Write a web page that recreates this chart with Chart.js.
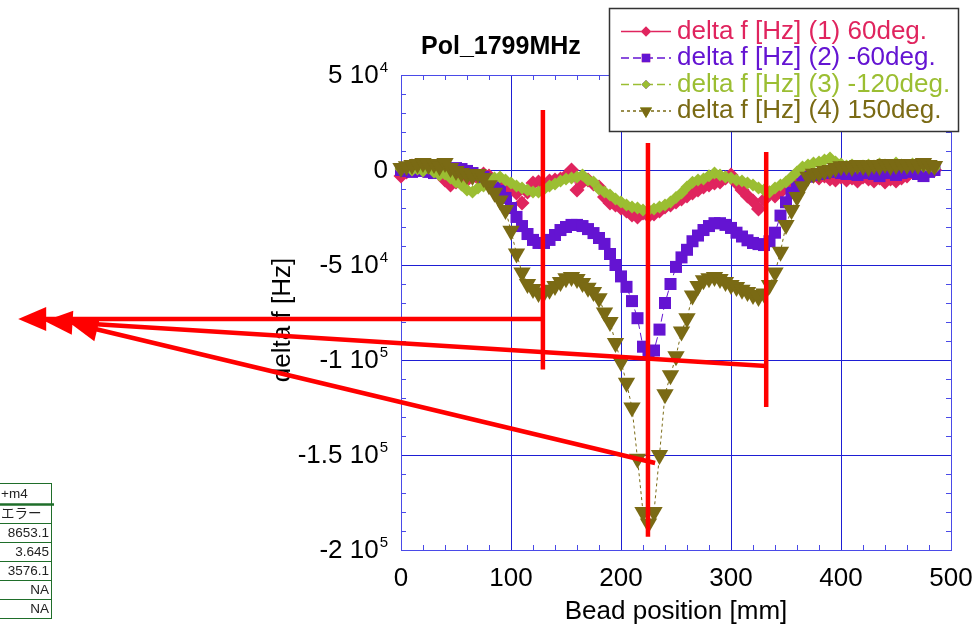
<!DOCTYPE html>
<html>
<head>
<meta charset="utf-8">
<script src="https://cdn.jsdelivr.net/npm/chart.js@4"></script>
<style>
html, body { margin: 0; padding: 0; background: #fff; }
#c { display: block; }
</style>
</head>
<body>
<canvas id="c" width="977" height="634"></canvas>
<script>
// bead position [mm]
const positions = [0,5,10,15,20,25,30,35,40,45,50,55,60,65,70,75,80,85,90,95,
  100,105,110,115,120,125,130,135,140,145,150,155,160,165,170,175,180,185,190,195,
  200,205,210,215,220,225,230,235,240,245,250,255,260,265,270,275,280,285,290,295,
  300,305,310,315,320,325,330,335,340,345,350,355,360,365,370,375,380,385,390,395,
  400,405,410,415,420,425,430,435,440,445,450,455,460,465,470,475,480,485];

// delta f [Hz] (1) 60deg.
const deltaF1 = [-3200,-1000,2100,1000,0,1600,-500,-2100,-5300,-7900,
  -6300,-3700,-5300,-3200,-4200,-2100,-3200,-5300,-6800,-8900,
  -9500,-12100,-17400,-11600,-6800,-6300,-7900,-5800,-5300,-4700,
  -3200,0,-10500,-6300,-5300,-7400,-8900,-14200,-17400,-18400,
  -20000,-21600,-23700,-24700,-22600,-24200,-23200,-21600,-19500,-18400,
  -16800,-15300,-13700,-12100,-10500,-8900,-7900,-6800,-6300,-4200,
  -2600,-6800,-10500,-13700,-16300,-20500,-15800,-12100,-13700,-11600,
  -8900,-7400,-5300,-2600,-1600,-3200,-4200,-3200,-4700,-5300,
  -3700,-5300,-4200,-5800,-3700,-4700,-5800,-4200,-6300,-4700,
  -5800,-4200,-3200,-1000,0,1000,2100,0];

// delta f [Hz] (2) -60deg.
const deltaF2 = [0,-500,-1000,0,-500,-1000,-1600,-500,-1000,0,
  1000,500,-500,-1600,-2600,-3700,-5300,-7400,-11000,-14700,
  -20000,-24700,-29500,-33700,-36800,-38400,-38400,-36800,-34200,-31600,
  -30000,-28900,-28900,-29500,-31100,-33200,-35800,-38900,-44200,-50000,
  -56000,-61500,-69000,-78000,-93000,-97000,-95000,-84000,-70000,-60000,
  -51000,-46000,-42000,-37500,-34500,-31600,-29500,-28000,-28000,-28900,
  -30500,-33000,-35000,-37000,-38400,-39000,-39500,-37500,-33000,-24000,
  -17000,-12000,-9000,-5000,-3500,-2600,-2100,-1600,-1000,-1000,
  -1600,-2100,-1000,-2600,-1600,-1000,-2100,-3200,-1600,-1000,
  -2600,-1600,-1000,-500,-2100,-3200,-1000,0];

// delta f [Hz] (3) -120deg.
const deltaF3 = [500,1000,0,500,-500,1000,-1000,-2600,-2100,-4200,
  -6300,-7900,-10500,-11600,-9500,-8400,-6300,-4200,-3700,-5300,
  -6800,-8400,-9500,-10500,-11600,-11600,-10000,-8400,-7400,-5800,
  -4700,-4200,-3700,-2600,-5300,-6300,-10000,-11600,-13200,-15300,
  -16800,-18400,-19500,-20000,-21100,-21100,-20500,-19500,-18400,-16800,
  -14500,-12100,-9000,-6500,-5300,-4700,-3000,-1600,-2600,-3700,
  -4200,-5300,-5800,-6800,-7900,-9500,-10500,-11600,-9500,-7900,
  -6300,-3700,-1000,1600,2600,3700,4200,5300,6300,4200,
  3200,2100,2600,1600,2100,2600,2100,3200,2600,2100,
  3700,2600,2100,3200,2600,2100,1600,1000];

// delta f [Hz] (4) 150deg.
const deltaF4 = [1000,2000,2600,3200,3700,2600,3200,2000,3700,1000,
  -500,-1600,-2600,-3200,-2100,-4200,-8000,-12000,-16000,-21000,
  -32000,-44000,-54000,-60000,-62600,-64700,-64500,-63000,-61000,-59000,
  -57000,-56300,-57400,-59500,-62000,-64200,-67500,-75000,-80000,-91000,
  -101000,-112000,-125000,-152000,-180000,-186000,-180000,-150000,-118000,-108000,
  -98000,-85000,-78000,-66000,-61000,-58000,-57000,-56300,-57400,-59000,
  -60500,-61600,-63000,-64200,-65800,-66800,-65000,-60500,-54000,-43000,
  -29000,-21000,-14200,-8500,-3500,-2000,-1600,-500,0,1000,
  2000,2100,1600,2600,2100,1600,2600,2100,3200,2100,
  2600,3200,2600,3200,2600,3700,2600,2100];

const seriesNames = ['delta f [Hz] (1) 60deg.', 'delta f [Hz] (2) -60deg.',
  'delta f [Hz] (3) -120deg.', 'delta f [Hz] (4) 150deg.'];
const seriesColors = ['#e0245e', '#6414d2', '#9bbe32', '#7a6a14'];

const xTickValues = [0, 100, 200, 300, 400, 500];
const yTickValues = [50000, 0, -50000, -100000, -150000, -200000];
const yTickMantissa = ['5 10', '0', '-5 10', '-1 10', '-1.5 10', '-2 10'];
const yTickExponent = ['4', '', '4', '5', '5', '5'];

// red annotation marks, in data units (x mm, y Hz)
const markVertical = [[129, 31600, -105000], [224.5, 14200, -193000], [332, 9500, -124700]];
const markArrows = [[129, -78400, -348, -78400], [332, -103200, -324, -79500], [231, -154200, -301, -80500]];

// bit of a spreadsheet at the lower left
const tableCells = ['+m4', 'エラー', '8653.1', '3.645', '3576.1', 'NA', 'NA'];

const FONT = '"Liberation Sans", Arial, sans-serif';

function points(vals) {
  return positions.map((p, i) => ({ x: p, y: vals[i] }));
}

const styles = [
  { pointStyle: 'rectRot', pointRadius: 7.5, borderDash: [] },
  { pointStyle: 'rect', pointRadius: 8.5, borderDash: [8, 4] },
  { pointStyle: 'rectRot', pointRadius: 6.5, borderDash: [8, 4] },
  { pointStyle: 'triangle', pointRadius: 10, borderDash: [3, 3], pointRotation: 180 }
];

const datasets = [deltaF1, deltaF2, deltaF3, deltaF4].map((vals, i) => ({
  label: seriesNames[i],
  data: points(vals),
  borderColor: seriesColors[i],
  backgroundColor: seriesColors[i],
  pointBackgroundColor: seriesColors[i],
  pointBorderWidth: 0,
  borderWidth: 1,
  borderDash: styles[i].borderDash,
  pointStyle: styles[i].pointStyle,
  pointRadius: styles[i].pointRadius,
  pointRotation: styles[i].pointRotation || 0,
  tension: 0,
  clip: false,
  order: 3 - i
}));

function drawArrow(ctx, x0, y0, x1, y1) {
  const ang = Math.atan2(y1 - y0, x1 - x0);
  const len = 28, half = 12;
  const bx = x1 - Math.cos(ang) * len, by = y1 - Math.sin(ang) * len;
  ctx.beginPath();
  ctx.moveTo(x0, y0);
  ctx.lineTo(bx + Math.cos(ang) * 4, by + Math.sin(ang) * 4);
  ctx.stroke();
  ctx.beginPath();
  ctx.moveTo(x1, y1);
  ctx.lineTo(bx - Math.sin(ang) * half, by + Math.cos(ang) * half);
  ctx.lineTo(bx + Math.sin(ang) * half, by - Math.cos(ang) * half);
  ctx.closePath();
  ctx.fill();
}

const frame = {
  id: 'frame',
  beforeDatasetsDraw(chart) {
    const { ctx, chartArea: a, scales: { x, y } } = chart;
    ctx.save();
    ctx.strokeStyle = '#4a4ae8';
    ctx.lineWidth = 1;
    ctx.beginPath();
    for (let v = 20; v < 500; v += 20) {
      if (v % 100 === 0) continue;
      const px = Math.round(x.getPixelForValue(v)) + 0.5;
      ctx.moveTo(px, a.bottom); ctx.lineTo(px, a.bottom - 5);
      ctx.moveTo(px, a.top); ctx.lineTo(px, a.top + 5);
    }
    for (let v = -190000; v < 50000; v += 10000) {
      if (v % 50000 === 0) continue;
      const py = Math.round(y.getPixelForValue(v)) + 0.5;
      ctx.moveTo(a.left, py); ctx.lineTo(a.left + 5, py);
      ctx.moveTo(a.right, py); ctx.lineTo(a.right - 5, py);
    }
    ctx.stroke();
    ctx.strokeRect(Math.round(a.left) + 0.5, Math.round(a.top) + 0.5,
      Math.round(a.right - a.left), Math.round(a.bottom - a.top));
    ctx.restore();
  },
  afterDraw(chart) {
    const { ctx, scales: { x, y } } = chart;
    ctx.save();

    // tick labels
    ctx.fillStyle = '#000';
    ctx.font = '26px ' + FONT;
    ctx.textAlign = 'center';
    ctx.textBaseline = 'middle';
    xTickValues.forEach(v => ctx.fillText(String(v), x.getPixelForValue(v), 579));
    yTickValues.forEach((v, i) => {
      const py = y.getPixelForValue(v);
      let right = 388;
      if (yTickExponent[i]) {
        ctx.font = '15px ' + FONT;
        ctx.textAlign = 'right';
        ctx.textBaseline = 'alphabetic';
        ctx.fillText(yTickExponent[i], right, py - 3);
        right -= ctx.measureText(yTickExponent[i]).width + 1;
      }
      ctx.font = '26px ' + FONT;
      ctx.textAlign = 'right';
      ctx.textBaseline = 'middle';
      ctx.fillText(yTickMantissa[i], right, py + 1);
    });

    // axis titles
    ctx.textAlign = 'center';
    ctx.fillText('Bead position [mm]', 676, 612);
    ctx.save();
    ctx.translate(290, 320);
    ctx.rotate(-Math.PI / 2);
    ctx.textBaseline = 'alphabetic';
    ctx.fillText('delta f [Hz]', 0, 0);
    ctx.restore();

    // chart title
    ctx.font = 'bold 25px ' + FONT;
    ctx.textAlign = 'left';
    ctx.textBaseline = 'middle';
    ctx.fillText('Pol_1799MHz', 421, 47);

    // legend
    ctx.fillStyle = '#fff';
    ctx.fillRect(609, 8, 349, 123);
    ctx.strokeStyle = '#333';
    ctx.lineWidth = 1.5;
    ctx.strokeRect(609.5, 8.5, 349, 123);
    const rowY = [31.5, 58, 84.5, 111];
    chart.data.datasets.forEach((ds, i) => {
      const ry = rowY[i];
      ctx.strokeStyle = ds.borderColor;
      ctx.lineWidth = 1.5;
      ctx.setLineDash(ds.borderDash);
      ctx.beginPath();
      ctx.moveTo(621, ry); ctx.lineTo(671, ry);
      ctx.stroke();
      ctx.setLineDash([]);
      Chart.helpers.drawPoint(ctx, {
        pointStyle: ds.pointStyle, radius: ds.pointRadius * 0.7,
        rotation: ds.pointRotation, borderWidth: 0
      }, 646, ry);
      ctx.fillStyle = ds.borderColor;
      ctx.fill();
      ctx.font = '26px ' + FONT;
      ctx.textAlign = 'left';
      ctx.textBaseline = 'middle';
      ctx.fillText(ds.label, 677, ry);
    });

    // red annotations
    ctx.strokeStyle = '#ff0000';
    ctx.fillStyle = '#ff0000';
    ctx.lineWidth = 4.5;
    ctx.lineCap = 'butt';
    markVertical.forEach(([mx, y0, y1]) => {
      const px = x.getPixelForValue(mx);
      ctx.beginPath();
      ctx.moveTo(px, y.getPixelForValue(y0));
      ctx.lineTo(px, y.getPixelForValue(y1));
      ctx.stroke();
    });
    markArrows.forEach(([x0, y0, x1, y1]) => {
      drawArrow(ctx, x.getPixelForValue(x0), y.getPixelForValue(y0),
        x.getPixelForValue(x1), y.getPixelForValue(y1));
    });

    // table fragment
    ctx.strokeStyle = '#1f6e2a';
    ctx.lineWidth = 1;
    const rows = [483, 504, 523, 542, 561, 580, 599, 618];
    ctx.beginPath();
    rows.forEach((ry, i) => {
      if (i === 1) return;
      ctx.moveTo(0, ry + 0.5); ctx.lineTo(52, ry + 0.5);
    });
    ctx.moveTo(51.5, 483); ctx.lineTo(51.5, 618);
    ctx.stroke();
    ctx.lineWidth = 2.5;
    ctx.beginPath();
    ctx.moveTo(0, 504.5); ctx.lineTo(54, 504.5);
    ctx.stroke();
    ctx.fillStyle = '#222';
    ctx.font = '13.5px ' + FONT + ', "Noto Sans CJK JP"';
    ctx.textBaseline = 'middle';
    tableCells.forEach((t, i) => {
      const cy = (rows[i] + rows[i + 1]) / 2 + 1;
      if (i < 2) {
        ctx.textAlign = 'left';
        ctx.fillText(t, 1, cy);
      } else {
        ctx.textAlign = 'right';
        ctx.fillText(t, 49, cy);
      }
    });
    ctx.restore();
  }
};

new Chart(document.getElementById('c'), {
  type: 'line',
  data: { datasets },
  options: {
    responsive: false,
    animation: false,
    devicePixelRatio: 1,
    layout: { padding: { left: 401, right: 26, top: 75, bottom: 84 } },
    plugins: { legend: { display: false }, title: { display: false }, tooltip: { enabled: false } },
    scales: {
      x: {
        type: 'linear', min: 0, max: 500,
        ticks: { display: false, stepSize: 100 },
        grid: { color: '#1e1ed4', lineWidth: 1, drawTicks: false },
        border: { display: false }
      },
      y: {
        type: 'linear', min: -200000, max: 50000,
        ticks: { display: false, stepSize: 50000 },
        grid: { color: '#1e1ed4', lineWidth: 1, drawTicks: false },
        border: { display: false }
      }
    }
  },
  plugins: [frame]
});
</script>
</body>
</html>
